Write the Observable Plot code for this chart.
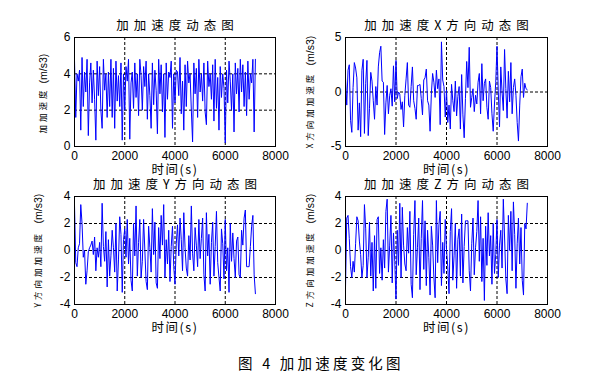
<!DOCTYPE html>
<html><head><meta charset="utf-8">
<script src="https://cdn.jsdelivr.net/npm/d3@7"></script>
<script src="https://cdn.jsdelivr.net/npm/@observablehq/plot@0.6"></script>
<style>
body{margin:0;background:#fff;}
#wrap{position:relative;width:597px;height:385px;background:#fff;overflow:hidden;}
#wrap svg{position:absolute;}
#cap{position:absolute;left:238px;top:354px;font-family:'Noto Sans CJK SC',sans-serif;font-size:14.5px;letter-spacing:3.2px;white-space:pre;color:#000;line-height:18px;}
</style></head><body>
<div id="wrap"><div id="cap">图 4 加加速度变化图</div></div>
<script>
// sample spacing (s)
const step = 50;
// total jerk (m/s3)
const jerkTotal = [4.75,1.6,4.0,3.6,4.2,0.9,4.9,2.2,4.1,3.0,
 4.8,0.6,3.5,4.6,2.4,4.2,2.6,0.35,4.7,2.8,
 4.4,2.0,1.0,4.8,3.1,4.0,1.6,4.1,2.2,4.8,
 1.6,4.3,1.0,4.7,2.5,3.9,2.2,4.6,0.35,4.0,
 2.0,4.4,3.6,4.8,0.4,3.5,4.1,2.1,4.6,2.7,
 4.0,1.7,4.8,3.9,2.0,4.4,3.3,4.7,1.5,4.0,
 2.8,1.0,4.6,2.3,4.2,3.1,0.7,4.8,2.9,4.5,
 1.9,4.0,0.5,4.6,2.6,4.1,3.8,4.7,1.0,4.0,
 2.4,4.2,4.1,2.8,4.9,1.8,3.6,0.9,4.5,2.2,
 4.7,3.5,4.0,2.0,0.25,4.6,2.9,4.3,1.6,4.8,
 3.0,4.0,2.5,4.6,1.9,1.2,4.7,3.3,4.0,2.6,
 4.5,1.4,4.8,2.1,3.8,0.9,4.4,2.7,4.0,3.2,
 0.2,4.2,2.4,4.7,3.6,2.0,4.0,0.8,4.6,2.9,
 4.3,1.9,4.8,3.0,4.5,2.2,4.1,1.7,4.7,2.6,
 4.0,3.5,4.8,0.8,4.8];
// X-direction jerk
const jerkX = [1.3,-1.2,2.0,2.5,-2.6,-3.7,0.4,2.7,2.2,1.3,
 -3.5,-1.0,-4.1,2.0,3.0,-3.8,0.8,2.9,-4.0,-1.5,
 1.8,1.0,-0.8,-2.5,0.5,-1.2,2.3,3.6,4.2,1.0,
 0.9,-3.9,-1.0,0.6,-2.0,-0.3,0.3,-1.3,2.4,-0.9,
 2.9,-0.6,0.0,-0.2,-1.6,-0.9,-3.2,-0.3,1.2,2.7,
 -1.2,-1.4,0.5,2.3,-0.8,-1.5,-2.5,0.6,0.6,0.7,
 -0.6,-2.1,1.1,1.3,2.1,-0.8,-1.2,-3.6,-0.2,1.7,
 0.9,-0.5,2.0,0.3,1.2,-3.0,4.6,1.1,0.5,-2.3,
 0.2,-2.8,-1.2,-3.4,0.7,-0.8,-1.8,1.0,-2.2,-0.4,
 0.5,-3.4,1.6,-2.1,-4.2,-0.6,2.8,0.4,4.1,-1.4,
 -0.5,0.3,-1.8,-0.3,-1.1,0.9,1.7,-2.0,2.6,-0.8,
 0.8,1.2,-1.4,-2.5,1.0,0.4,-2.0,-3.6,-1.1,0.9,
 4.2,0.1,-3.2,2.3,0.0,-1.7,3.9,0.3,-2.4,1.9,
 -0.9,2.7,-2.0,0.4,1.2,-0.3,-2.8,-4.5,-1.2,1.4,
 2.1,-0.5,0.8,0.3,0.2];
// Y-direction jerk
const jerkY = [3.4,-0.9,-1.2,0.2,0.5,3.4,2.0,-0.5,0.0,-2.5,
 -1.5,-0.1,0.2,0.4,0.7,-0.3,1.0,-1.5,0.2,-0.5,
 0.6,-1.2,3.5,0.3,-0.8,1.4,-2.7,0.8,-1.9,-0.4,
 1.5,0.2,-1.6,2.0,-3.0,-0.7,2.5,1.2,-3.1,0.8,
 1.6,-0.5,2.3,-1.0,0.9,-2.2,-3.0,2.0,-0.4,3.3,
 -1.9,0.6,2.3,-2.0,-0.8,2.3,0.0,-2.3,-2.9,1.8,
 0.2,-1.6,3.1,-0.3,2.1,-2.4,-2.8,1.7,-0.6,2.6,
 0.4,3.4,-2.0,0.8,-1.0,1.5,-2.3,0.3,1.8,-1.2,
 -2.5,0.5,1.9,-0.4,2.4,0.8,-1.5,2.8,0.2,-1.3,
 -1.9,1.1,-0.7,3.3,-0.2,-1.5,1.7,0.4,-1.2,2.3,
 -0.6,0.9,2.4,-1.8,-3.0,2.8,-0.4,1.2,-2.5,0.6,
 2.1,-1.9,0.3,2.9,-0.9,-2.0,-3.0,1.6,0.5,-2.1,
 2.3,-1.5,0.2,-3.1,2.0,-0.8,1.3,-0.6,-2.0,0.7,
 1.0,-1.8,-2.0,1.5,0.4,2.4,3.0,-1.2,-1.2,-1.2,
 0.3,1.8,2.6,-1.8,-3.2];
// Z-direction jerk
const jerkZ = [-2.8,2.4,2.6,0.9,-1.2,-2.0,-0.8,-1.6,0.5,2.5,
 2.2,0.7,-0.3,-2.0,-1.1,3.4,1.6,-2.0,-0.5,2.1,
 -1.9,0.6,-3.0,1.1,-2.8,2.3,2.5,-1.7,0.2,-2.2,
 0.8,-1.3,2.9,3.8,-1.6,0.4,2.6,-2.4,1.3,-0.8,
 -3.6,1.5,-1.1,3.5,-2.0,3.2,0.4,-1.0,-1.5,1.7,
 -0.2,2.9,-2.5,-3.5,1.2,3.7,-1.8,0.2,2.4,-2.9,
 0.9,3.7,-1.4,2.2,-2.6,1.5,-0.5,-3.3,1.8,0.4,
 -2.0,-3.5,3.7,-0.9,1.9,2.9,-2.6,0.6,-1.7,2.3,
 0.1,-1.2,-3.2,1.4,3.1,-2.2,-0.4,2.0,-2.8,0.8,
 1.6,-1.9,2.7,-2.4,0.3,2.2,2.2,2.2,-1.5,-3.0,
 0.5,2.4,-1.8,0.2,1.4,3.7,-0.8,2.5,-2.3,0.9,
 -3.7,1.8,-1.1,2.8,-0.4,1.1,-2.5,2.0,-1.7,-0.3,
 2.3,-2.0,0.4,1.5,-1.3,3.8,1.0,-2.1,-3.2,2.6,
 0.0,2.9,-1.5,3.6,1.2,-2.8,0.5,2.4,-1.0,1.7,
 -2.2,-3.3,2.0,1.6,3.5];

const xTicks = [0, 2000, 4000, 6000, 8000];
const xGrid = [2000, 4000, 6000];
const titles = ["加加速度动态图", "加加速度X方向动态图", "加加速度Y方向动态图", "加加速度Z方向动态图"];
const yNames = ["加加速度", "X方向加加速度", "Y方向加加速度", "Z方向加加速度"];
const yUnit = "(m/s3)";
const xName = "时间(s)";
const yTickSets = [[0, 2, 4, 6], [-5, 0, 5], [-4, -2, 0, 2, 4], [-4, -2, 0, 2, 4]];
const yGridSets = [[2, 4], [0], [-2, 0, 2], [-2, 0, 2]];
const series = [jerkTotal, jerkX, jerkY, jerkZ];

// layout of the four panels (name/unit offsets give the lower end of each rotated text)
const layout = [
  {left: 0, top: 0, width: 298, mL: 74, mR: 23, mT: 37, mB: 24, dx: -31, unitDy: -8.5, nameDy: 41.5},
  {left: 297, top: 0, width: 300, mL: 48, mR: 50, mT: 37, mB: 24, dx: -35, unitDy: -26.5, nameDy: 56.5},
  {left: 0, top: 170, width: 298, mL: 74, mR: 23, mT: 26, mB: 36, dx: -36, unitDy: -27, nameDy: 57},
  {left: 297, top: 170, width: 300, mL: 48, mR: 50, mT: 26, mB: 36, dx: -35, unitDy: -27, nameDy: 57}
];

const font = "'Liberation Sans', Arial, 'Noto Sans CJK SC', sans-serif";
const cjk = "'Noto Sans CJK SC', sans-serif";
const wrap = document.getElementById("wrap");

series.forEach((vals, k) => {
  const L = layout[k];
  const data = vals.map((v, i) => ({t: i * step, v}));
  const yt = yTickSets[k];
  const svg = Plot.plot({
    width: L.width, height: 170,
    marginLeft: L.mL, marginRight: L.mR, marginTop: L.mT, marginBottom: L.mB,
    style: {fontFamily: font, fontSize: "12px", color: "#000", background: "transparent", overflow: "visible"},
    x: {domain: [0, 8000], ticks: xTicks, tickSize: 0, tickPadding: 5, tickFormat: d => String(d), label: null},
    y: {domain: [yt[0], yt[yt.length - 1]], ticks: yt, tickSize: 0, tickPadding: 4, tickFormat: d => String(d), label: null},
    marks: [
      Plot.ruleX(xGrid, {stroke: "#000", strokeWidth: 1, strokeDasharray: "3,2"}),
      Plot.ruleY(yGridSets[k], {stroke: "#000", strokeWidth: 1, strokeDasharray: "3,2"}),
      Plot.line(data, {x: "t", y: "v", stroke: "#0000ff", strokeWidth: 1}),
      Plot.frame({stroke: "#000", strokeWidth: 1}),
      Plot.text([titles[k]], {text: d => d, frameAnchor: "top", lineAnchor: "middle", dy: -12, dx: 2.5, fontSize: 12.5, fontFamily: cjk, fill: "#000"}),
      Plot.text([xName], {text: d => d, frameAnchor: "bottom", lineAnchor: "middle", dy: 23.5, dx: 0, fontSize: 12.5, fontFamily: cjk, fill: "#000"}),
      Plot.text([yUnit], {text: d => d, frameAnchor: "left", lineAnchor: "middle", textAnchor: "start", dx: L.dx, dy: L.unitDy, rotate: -90, fontSize: 10.5, fontFamily: font, fill: "#000"}),
      Plot.text([yNames[k]], {text: d => d, frameAnchor: "left", lineAnchor: "middle", textAnchor: "start", dx: L.dx, dy: L.nameDy, rotate: -90, fontSize: 8.5, fontFamily: cjk, fill: "#000"})
    ]
  });
  svg.style.left = L.left + "px";
  svg.style.top = L.top + "px";
  const s = d3.select(svg);
  const spacing = (txt, ls) => s.selectAll("text").filter(function() { return this.textContent === txt; }).style("letter-spacing", ls);
  spacing(titles[k], "5px");
  spacing(xName, "1.5px");
  spacing(yNames[k], "3px");
  wrap.appendChild(svg);
});
</script>
</body></html>
